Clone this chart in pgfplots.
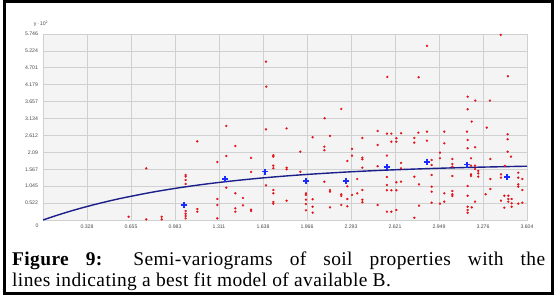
\documentclass[border=0pt]{standalone}
\usepackage{pgfplots}
\pgfplotsset{compat=1.18}
\usepackage{fontspec}
\setmainfont{Liberation Serif}
\newfontfamily\tickfont{Liberation Sans}
\definecolor{bggray}{HTML}{F4F4F4}
\definecolor{gridgray}{HTML}{D0D0D0}
\definecolor{dotred}{HTML}{E4141B}
\definecolor{plusblue}{HTML}{1A2BFF}
\definecolor{curvenavy}{HTML}{1B1F8A}
\definecolor{ticktext}{HTML}{4A4A4A}
\begin{document}
\begin{tikzpicture}
\useasboundingbox (0bp,0bp) rectangle (557bp,303bp);
\begin{axis}[
  at={(43bp,83bp)}, anchor=south west,
  scale only axis, width=484bp, height=186bp,
  xmin=0, xmax=3.604, ymin=0, ymax=5.746,
  axis background/.style={fill=bggray},
  axis line style={gridgray, line width=0.8bp},
  grid=major, major grid style={gridgray, line width=0.8bp},
  major tick length=0pt,
  xtick={0.3276,0.6553,0.9829,1.3106,1.6382,1.9658,2.2935,2.6211,2.9488,3.2764,3.604},
  xticklabels={0.328,0.655,0.983,1.311,1.638,1.966,2.293,2.621,2.949,3.276,3.604},
  ytick={0.5224,1.0447,1.5671,2.0895,2.6118,3.1342,3.6565,4.1789,4.7013,5.2236,5.746},
  yticklabels={0.522,1.045,1.567,2.09,2.612,3.134,3.657,4.179,4.701,5.224,5.746},
  tick label style={font=\tickfont\fontsize{5.2}{6}\selectfont, text=ticktext},
  xticklabel style={yshift=-1.5bp},
  yticklabel style={xshift=-1.5bp},
  clip=false,
]
\addplot[only marks, mark=*, mark size=0.95bp, mark options={draw=dotred, fill=dotred}] coordinates {
(1.149,2.43) (1.365,2.906) (1.432,2.287) (1.365,1.978) (1.298,1.793) (1.549,1.917) (1.549,1.484)
(1.660,2.80) (1.715,2.00) (1.715,1.957) (1.715,1.68) (1.715,1.60) (0.769,1.597)
(1.062,1.39) (1.062,1.34) (1.062,1.236) (1.062,1.113) (1.365,0.999) (1.432,0.825)
(1.489,0.68) (1.489,0.454) (1.298,0.649) (1.298,0.464) (1.432,0.361) (1.432,0.257)
(1.149,0.34) (1.149,0.257) (1.549,0.318) (1.549,0.278) (1.062,0.278) (1.062,0.195)
(1.062,0.124) (1.062,0.05) (1.298,0.05) (0.884,0.10) (0.884,0.02) (0.769,0.02) (0.638,0.10)
(1.660,1.07) (1.715,0.927) (1.715,0.825) (1.715,0.556) (1.715,0.50)
(1.660,4.893) (1.663,4.12) (2.097,3.144) (2.221,3.43) (2.564,4.42) (2.797,4.41) (2.859,5.38)
(3.162,3.81) (3.219,3.69) (3.328,3.69) (3.162,3.42) (3.408,5.72) (3.462,4.44) (3.192,3.04)
(1.814,2.83) (2.008,2.556) (2.137,2.597) (2.095,2.266) (2.095,2.155) (1.916,2.11)
(2.301,2.195) (2.301,1.99) (2.266,1.824) (2.378,2.535) (2.378,1.926) (2.378,1.876) (2.378,1.617)
(2.492,2.751) (2.492,2.318) (2.492,1.66) (2.561,2.668) (2.594,2.668) (2.561,1.99)
(2.594,2.42) (2.631,2.42) (2.631,2.525) (1.814,1.617) (1.814,1.567) (1.916,1.49)
(1.814,0.597) (1.958,0.825) (1.958,0.773) (1.958,0.628) (1.958,0.495) (1.958,0.30)
(2.008,0.64) (2.008,0.41) (2.008,0.226) (2.095,1.184) (2.137,0.927) (2.137,0.875) (2.137,0.39)
(2.221,0.794) (2.221,0.742) (2.266,1.04) (2.266,0.649) (2.221,0.464) (2.266,0.423)
(2.301,0.773) (2.340,1.267) (2.340,0.825) (2.378,0.927) (2.378,0.628) (2.378,0.547)
(2.492,0.464) (2.561,1.329) (2.561,1.082) (2.561,0.918) (2.594,0.918) (2.631,1.165)
(2.631,0.918) (2.561,0.257) (2.594,0.257) (2.631,0.309)
(3.304,2.853) (2.988,2.73) (3.157,2.73) (2.666,2.68) (2.795,2.699) (2.859,2.73)
(2.765,2.535) (2.859,2.45) (2.765,2.39) (2.988,2.37) (3.162,2.473) (3.460,2.65)
(3.460,2.495) (3.162,2.216) (3.217,2.247) (3.460,2.11) (2.956,2.08) (3.485,1.957)
(3.331,1.886) (3.048,1.886) (2.956,1.907) (3.187,1.907) (2.894,1.855) (2.666,1.762)
(2.666,1.598) (2.894,1.70) (3.048,1.73) (3.048,1.648) (3.187,1.68) (3.217,1.68)
(3.217,1.577) (3.440,1.67) (2.765,1.338) (2.894,1.39) (3.048,1.36) (3.187,1.41)
(3.187,1.36) (3.241,1.515) (3.241,1.44) (3.241,1.338) (3.410,1.41) (3.410,1.31)
(3.539,1.46) (3.539,1.31) (3.569,1.267) (3.331,1.267) (2.666,1.184) (2.80,1.10)
(2.894,1.03) (2.894,0.875) (2.988,0.825) (3.048,0.896) (3.048,0.794) (3.048,0.742)
(3.162,1.051) (3.162,0.75) (3.331,0.958) (3.539,1.10) (3.539,1.03) (3.569,0.927)
(3.296,0.794) (3.435,0.75) (3.465,0.75) (3.465,0.649) (3.49,0.649) (3.41,0.597)
(3.465,0.566) (3.49,0.516) (3.539,0.504) (3.569,0.535) (3.435,0.38) (3.49,0.41)
(3.217,0.566) (3.192,0.39) (3.162,0.41) (3.162,0.309) (3.162,0.226) (2.988,0.566)
(2.956,0.504) (2.894,0.535) (2.80,0.442) (2.765,0.07)
};
\addplot[curvenavy, line width=1.4bp, smooth, no marks] coordinates {
(0,0) (0.1,0.139) (0.2,0.268) (0.3,0.386) (0.4,0.494) (0.5,0.594) (0.6,0.686)
(0.8,0.849) (1.0,0.987) (1.2,1.104) (1.4,1.202) (1.6,1.286) (1.8,1.357) (2.0,1.417)
(2.3,1.491) (2.6,1.548) (2.9,1.592) (3.2,1.627) (3.604,1.662)
};
\addplot[only marks, draw=plusblue, mark=+, mark size=3bp, mark options={solid, draw=plusblue, line width=1.7bp}] coordinates {
(1.052,0.464) (1.357,1.267) (1.655,1.494) (1.958,1.206) (2.256,1.206)
(2.559,1.638) (2.857,1.80) (3.159,1.71) (3.457,1.32)
};
\node[font=\tickfont\fontsize{5.2}{6}\selectfont, text=ticktext] at (axis cs:0,0) [xshift=-6bp, yshift=-6bp] {0};
\node[font=\tickfont\fontsize{5.2}{6}\selectfont, text=ticktext] at (rel axis cs:0,1) [xshift=-2bp, yshift=10bp] {y\,·\,10\textsuperscript{2}};
\end{axis}
\draw[line width=3bp] (4bp,9bp) rectangle (552bp,301.3bp);
\node[anchor=base west, inner sep=0pt] at (12bp,38bp) {\fontsize{19.5}{23}\selectfont\addfontfeature{LetterSpace=2}\makebox[533bp][s]{\textbf{Figure 9:} Semi-variograms of soil properties with the}};
\node[anchor=base west, inner sep=0pt] at (12bp,16.5bp) {\fontsize{19.5}{23}\selectfont\addfontfeature{LetterSpace=2}lines indicating a best fit model of available B.};
\end{tikzpicture}
\end{document}
